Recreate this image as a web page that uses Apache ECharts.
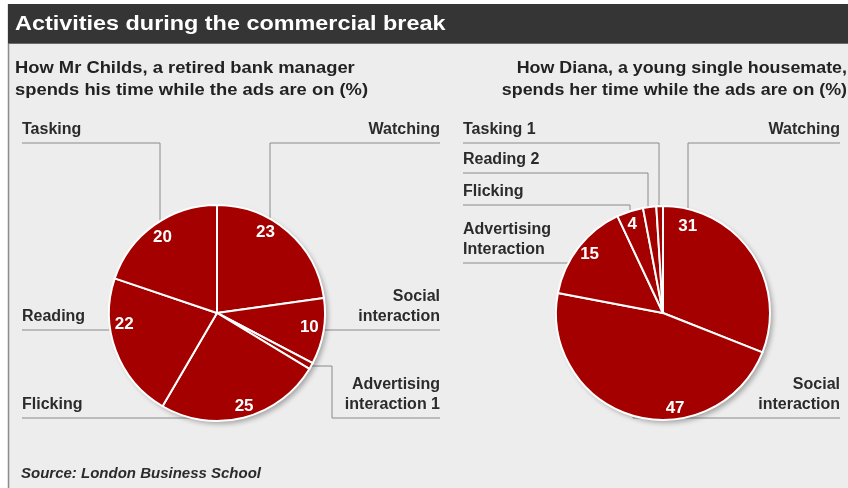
<!DOCTYPE html>
<html>
<head>
<meta charset="utf-8">
<script src="https://cdn.jsdelivr.net/npm/echarts@6/dist/echarts.min.js"></script>
<style>
  html, body { margin: 0; padding: 0; background: #fff; }
  #chart { width: 848px; height: 488px; }
</style>
</head>
<body>
<div id="chart"></div>
<script>
// Mr Childs, clockwise from 12 o'clock
const childsNames = ['Watching', 'Social\ninteraction', 'Advertising\ninteraction', 'Flicking', 'Reading', 'Tasking'];
const childsValues = [23, 10, 1, 25, 22, 20];

// Diana, clockwise from 12 o'clock
const dianaNames = ['Watching', 'Social\ninteraction', 'Advertising\nInteraction', 'Flicking', 'Reading', 'Tasking'];
const dianaValues = [31, 47, 15, 4, 2, 1];

// where each outside label sits (side, underline y, x of the vertical leg)
const childsSpots = [
  { side: 'right', y: 143, bend: 270 },
  { side: 'right', y: 330 },
  { side: 'right', y: 418, bend: 332 },
  { side: 'left', y: 418 },
  { side: 'left', y: 330 },
  { side: 'left', y: 143, bend: 160 }
];
const dianaSpots = [
  { side: 'right', y: 143, bend: 688 },
  { side: 'right', y: 418 },
  { side: 'left', y: 263 },
  { side: 'left', y: 205, bend: 630 },
  { side: 'left', y: 173, bend: 648 },
  { side: 'left', y: 143, bend: 659 }
];
// nudges for the numbers inside the slices
const childsNudge = [[-13, -10], [0, -2], [0, 0], [4, 2], [-5, -22], [0, 0]];
const dianaNudge = [[-52, -34], [38, 6], [0, -2], [-2, 0], [0, 0], [0, 0]];

const RED = '#a40000';
const FONT = "'Liberation Sans', Arial, sans-serif";

function pieData(names, values) {
  return names.map((n, i) => ({ name: n, value: values[i] }));
}

function outerLayout(spots, leftX, rightX) {
  return function (p) {
    const s = spots[p.dataIndex];
    const a = p.labelLinePoints[0];
    const endX = s.side === 'left' ? leftX : rightX;
    const pts = [[a[0], a[1]]];
    if (s.bend != null) {
      pts.push([s.bend, a[1]], [s.bend, s.y]);
    } else {
      pts.push([a[0], s.y]);
    }
    pts.push([endX, s.y]);
    return {
      x: endX,
      y: s.y - 3,
      align: s.side,
      verticalAlign: 'bottom',
      labelLinePoints: pts
    };
  };
}

function innerLayout(nudge) {
  return function (p) {
    const d = nudge[p.dataIndex];
    return { dx: d[0], dy: d[1] };
  };
}

function makeSeries(names, values, spots, nudge, center, r, leftX, rightX) {
  const data = pieData(names, values);
  const total = values.reduce((a, b) => a + b, 0);
  return [
    // leader lines + category labels (behind the pie)
    {
      type: 'pie', z: 1, silent: true, center: center, radius: r,
      startAngle: 90, clockwise: true, avoidLabelOverlap: false,
      data: data,
      itemStyle: { color: 'rgba(0,0,0,0)', borderWidth: 0 },
      label: {
        show: true, position: 'outside',
        color: '#2b2b2b', fontFamily: FONT, fontWeight: 'bold', fontSize: 16, lineHeight: 20,
        formatter: p => p.value < 3 ? p.name + ' ' + p.value : p.name
      },
      labelLine: { show: true, lineStyle: { color: '#8a8a8a', width: 1 } },
      labelLayout: outerLayout(spots, leftX, rightX)
    },
    // soft shadow under the pie
    {
      type: 'pie', z: 2, silent: true, center: center, radius: r,
      data: [{ name: 'all', value: total }],
      label: { show: false }, labelLine: { show: false },
      itemStyle: {
        color: RED, shadowColor: 'rgba(0,0,0,0.3)', shadowBlur: 5,
        shadowOffsetX: 3, shadowOffsetY: 3
      }
    },
    // the slices
    {
      type: 'pie', z: 3, silent: true, center: center, radius: r,
      startAngle: 90, clockwise: true,
      data: data,
      label: { show: false }, labelLine: { show: false },
      itemStyle: { color: RED, borderColor: '#ffffff', borderWidth: 2 }
    },
    // numbers in the slices
    {
      type: 'pie', z: 4, silent: true, center: center, radius: [0, r * 1.68],
      startAngle: 90, clockwise: true, avoidLabelOverlap: false,
      data: data,
      itemStyle: { color: 'rgba(0,0,0,0)', borderWidth: 0 },
      label: {
        show: true, position: 'inside',
        color: '#ffffff', fontFamily: FONT, fontWeight: 'bold', fontSize: 17,
        formatter: p => p.value >= 3 ? String(p.value) : ''
      },
      labelLine: { show: false },
      labelLayout: innerLayout(nudge)
    }
  ];
}

const chart = echarts.init(document.getElementById('chart'));
chart.setOption({
  animation: false,
  backgroundColor: '#ffffff',
  graphic: [
    { type: 'rect', z: -10, shape: { x: 9, y: 44, width: 839, height: 444 }, style: { fill: '#ededed' } },
    { type: 'line', z: -9, shape: { x1: 8.5, y1: 4, x2: 8.5, y2: 488 }, style: { stroke: '#8c8c8c', lineWidth: 1.5 } },
    { type: 'rect', z: -9, shape: { x: 8, y: 4, width: 840, height: 40 }, style: { fill: '#353535' } },
    { type: 'line', z: -8, shape: { x1: 8, y1: 43.5, x2: 848, y2: 43.5 }, style: { stroke: '#6a6a6a', lineWidth: 1 } },
    {
      type: 'text', z: 10, x: 15, y: 14, scaleX: 1.17,
      style: {
        text: 'Activities during the commercial break', fill: '#ffffff',
        font: "bold 20px 'Liberation Sans', Arial, sans-serif", verticalAlign: 'top'
      }
    },
    {
      type: 'text', z: 10, x: 15, y: 57, scaleX: 1.08,
      style: {
        text: 'How Mr Childs, a retired bank manager\nspends his time while the ads are on (%)', fill: '#222',
        font: "bold 17px 'Liberation Sans', Arial, sans-serif", lineHeight: 22, verticalAlign: 'top'
      }
    },
    {
      type: 'text', z: 10, x: 847, y: 57, scaleX: 1.05,
      style: {
        text: 'How Diana, a young single housemate,\nspends her time while the ads are on (%)', fill: '#222',
        font: "bold 17px 'Liberation Sans', Arial, sans-serif", lineHeight: 22, align: 'right', verticalAlign: 'top'
      }
    },
    {
      type: 'text', z: 10, x: 21, y: 466,
      style: {
        text: 'Source: London Business School', fill: '#2b2b2b',
        font: "italic bold 15px 'Liberation Sans', Arial, sans-serif", verticalAlign: 'top'
      }
    }
  ],
  series: [].concat(
    makeSeries(childsNames, childsValues, childsSpots, childsNudge, [217, 313], 108, 22, 440),
    makeSeries(dianaNames, dianaValues, dianaSpots, dianaNudge, [663, 313], 107, 463, 840)
  )
});
</script>
</body>
</html>
